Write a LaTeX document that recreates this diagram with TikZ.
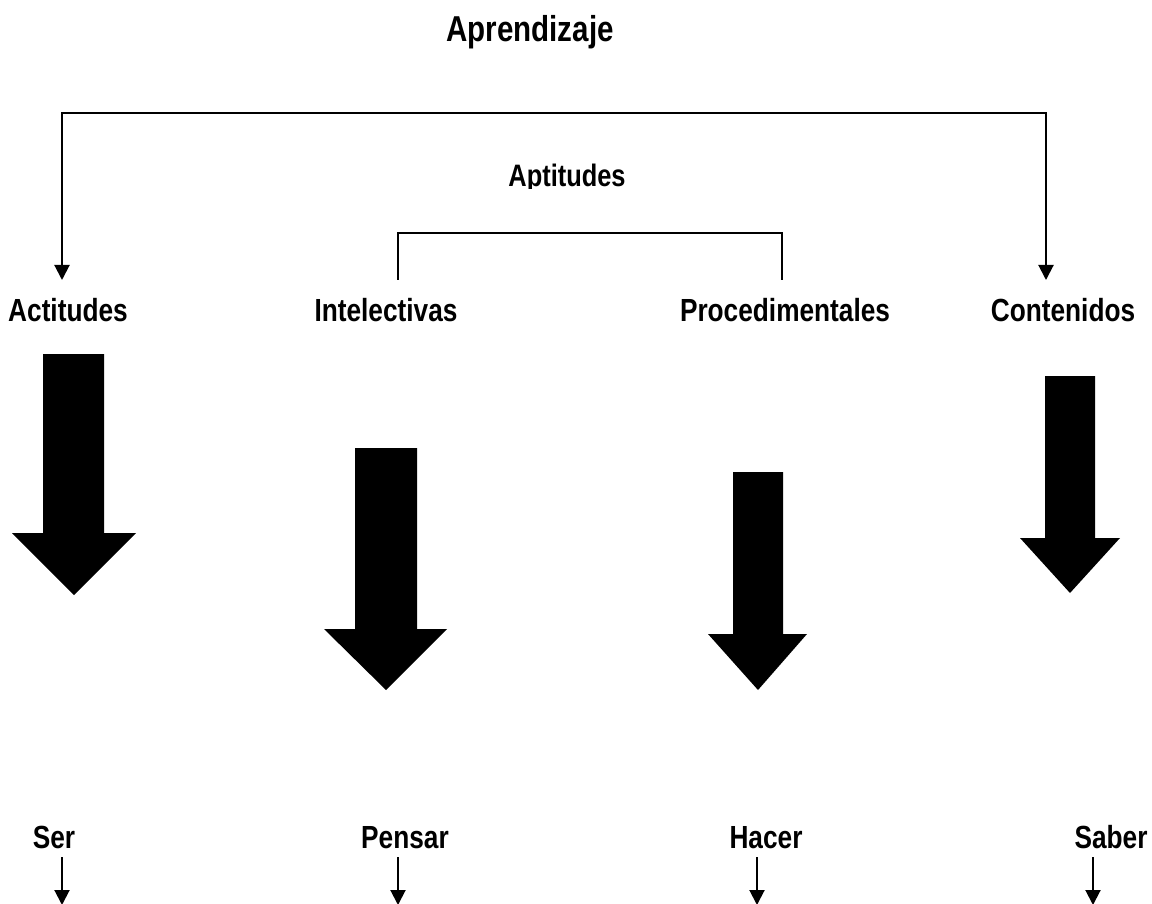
\documentclass[tikz,border=0pt]{standalone}
\usepackage{fontspec}
\setmainfont{Liberation Sans}[FakeStretch=0.82]
\usetikzlibrary{arrows.meta}
\tikzset{
  lbl/.style={anchor=base,inner sep=0pt,font=\fontsize{32}{38}\selectfont\bfseries},
  title/.style={anchor=base,inner sep=0pt,font=\fontsize{36}{42}\selectfont\bfseries},
  subtitle/.style={anchor=base,inner sep=0pt,font=\fontsize{31}{37}\selectfont\bfseries},
  thin/.style={line width=2pt},
  thinarrow/.style={thin,-{Triangle[width=15pt,length=15pt]}},
  bigarrowfill/.style={fill=black}
}
\begin{document}
\begin{tikzpicture}[x=1pt,y=-1pt]
\useasboundingbox (0,0) rectangle (1152,904);
\clip (0,0) rectangle (1152,904);
% titles
\node[title] (apr) at (530,42) {Aprendizaje};
\begin{scope}
\clip (400,140) rectangle (700,189);
\node[subtitle] (apt) at (567,187) {Aptitudes};
\end{scope}
% labels
\node[lbl] (act) at (68,321) {Actitudes};
\node[lbl] (int) at (386,321) {Intelectivas};
\node[lbl] (pro) at (785,321) {Procedimentales};
\node[lbl] (con) at (1063,321) {Contenidos};
\node[lbl] (ser) at (54,848) {Ser};
\node[lbl] (pen) at (405,848) {Pensar};
\node[lbl] (hac) at (766,848) {Hacer};
\node[lbl] (sab) at (1111,848) {Saber};
% coordinates
\coordinate (tl) at (62,113);
\coordinate (tr) at (1046,113);
\coordinate (actin) at (62,280);
\coordinate (conin) at (1046,280);
\coordinate (intin) at (398,280);
\coordinate (proin) at (782,280);
\coordinate (al) at (398,233);
\coordinate (ar) at (782,233);
% top bracket with arrows
\draw[thinarrow] (tr) -- (tl) -- (actin);
\draw[thinarrow] (tl) -- (tr) -- (conin);
% aptitudes bracket
\draw[thin] (intin) -- (al) -- (ar) -- (proin);
% big arrows
\fill[bigarrowfill] (43,354) -- (104,354) -- (104,533) -- (136,533) -- (74,595) -- (12,533) -- (43,533) -- cycle;
\fill[bigarrowfill] (355,448) -- (417,448) -- (417,629) -- (447,629) -- (386,690) -- (324,629) -- (355,629) -- cycle;
\fill[bigarrowfill] (733,472) -- (783,472) -- (783,634) -- (807,634) -- (758,690) -- (708,634) -- (733,634) -- cycle;
\fill[bigarrowfill] (1045,376) -- (1095,376) -- (1095,538) -- (1120,538) -- (1070,593) -- (1020,538) -- (1045,538) -- cycle;
% bottom arrows
\coordinate (s1) at (62,857);   \coordinate (e1) at (62,905);
\coordinate (s2) at (398,857);  \coordinate (e2) at (398,905);
\coordinate (s3) at (757,857);  \coordinate (e3) at (757,905);
\coordinate (s4) at (1093,857); \coordinate (e4) at (1093,905);
\draw[thinarrow] (s1) -- (e1);
\draw[thinarrow] (s2) -- (e2);
\draw[thinarrow] (s3) -- (e3);
\draw[thinarrow] (s4) -- (e4);
\end{tikzpicture}
\end{document}
